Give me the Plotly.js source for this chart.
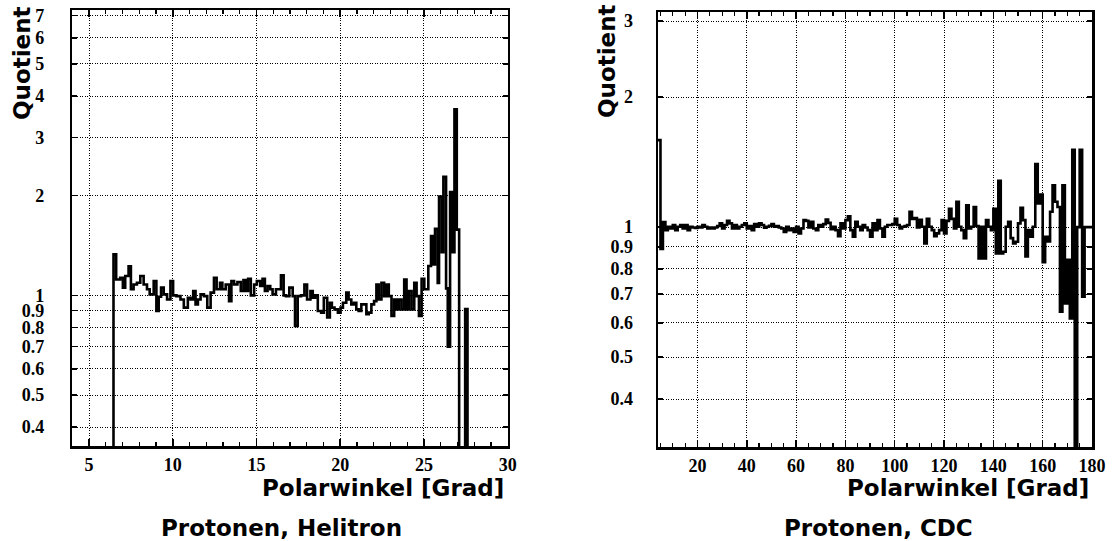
<!DOCTYPE html>
<html>
<head>
<meta charset="utf-8">
<script src="https://cdn.plot.ly/plotly-3.0.1.min.js"></script>
<style>
  html, body { margin: 0; padding: 0; background: #fff; }
  #chart { width: 1115px; height: 541px; }
</style>
</head>
<body>
<div id="chart"></div>
<script>
// Helitron: quotient per polar-angle bin (bin lower edges in degrees, last entry closes the final bin)
const heliEdges = [6.0, 6.46, 6.62, 6.86, 7.02, 7.16, 7.36, 7.50, 7.66, 7.86, 8.06, 8.26, 8.46, 8.62, 8.86,
  9.02, 9.16, 9.30, 9.46, 9.66, 9.86, 10.02, 10.22, 10.46, 10.66, 10.90, 11.06, 11.22, 11.36, 11.50,
  11.66, 11.86, 12.06, 12.26, 12.46, 12.62, 12.82, 12.96, 13.16, 13.36, 13.50, 13.66, 13.86, 14.06,
  14.22, 14.36, 14.50, 14.66, 14.86, 15.02, 15.22, 15.36, 15.50, 15.66, 15.82, 15.96, 16.16, 16.30,
  16.46, 16.62, 16.76, 16.96, 17.16, 17.30, 17.46, 17.66, 17.86, 18.02, 18.22, 18.36, 18.50, 18.66,
  18.86, 19.02, 19.22, 19.38, 19.50, 19.66, 19.86, 20.02, 20.16, 20.36, 20.50, 20.66, 20.82, 20.96,
  21.10, 21.26, 21.42, 21.56, 21.70, 21.86, 22.02, 22.16, 22.30, 22.46, 22.62, 22.76, 22.90, 23.06,
  23.22, 23.36, 23.50, 23.66, 23.82, 23.96, 24.10, 24.26, 24.42, 24.56, 24.70, 24.86, 25.02, 25.26,
  25.42, 25.56, 25.66, 25.82, 25.90, 26.06, 26.16, 26.32, 26.42, 26.56, 26.70, 26.82, 26.96, 27.10,
  27.46, 27.60, 28.0];
const heliQuot = [0, 1.33, 1.117, 1.130, 1.055, 1.144, 1.225, 1.043, 1.079, 1.092, 1.144, 1.079, 1.043, 1.007, 1.105,
  0.897, 0.990, 1.055, 1.007, 0.972, 1.105, 1.000, 0.995, 0.972, 0.918, 0.984, 0.972, 1.031, 0.939, 0.972,
  1.007, 0.995, 0.918, 1.019, 1.130, 1.043, 1.092, 1.043, 1.079, 0.961, 1.105, 1.079, 1.097, 1.031,
  1.112, 1.031, 1.122, 1.000, 1.079, 1.105, 1.067, 1.122, 1.031, 1.067, 1.043, 1.007, 1.043, 1.043,
  1.149, 1.000, 0.995, 1.055, 0.995, 0.809, 0.995, 1.000, 1.079, 0.972, 1.031, 0.984, 1.000, 0.897,
  0.887, 0.984, 0.857, 0.950, 0.918, 0.907, 0.887, 0.918, 0.950, 1.019, 0.972, 0.939, 0.950, 0.907,
  0.897, 0.939, 0.939, 0.877, 0.887, 0.939, 0.961, 1.079, 0.972, 1.092, 0.995, 1.079, 0.995, 0.867,
  0.972, 0.907, 0.972, 0.907, 1.117, 0.907, 1.031, 0.907, 1.092, 0.995, 0.867, 1.122, 1.043, 1.226,
  1.51, 1.24, 1.59, 1.09, 1.99, 1.35, 2.28, 1.05, 0.70, 2.05, 1.35, 3.65, 1.58, 0,
  0.91, 0];

// CDC: quotient in 1-degree bins starting at 4 degrees
const cdcStart = 4;
const cdcWidth = 1;
const cdcQuot = [
  1.59, 0.89, 1.027, 0.984, 1.002, 0.993, 1.011, 0.984, 1.002, 1.011, 0.993, 1.011, 0.984, 1.002, 0.998, 0.995,
  1.002, 0.998, 1.011, 1.002, 0.993, 0.998, 0.993, 0.998, 1.006, 1.020, 0.993, 1.011, 1.034, 1.020, 0.993, 1.011, 0.993, 1.002, 1.011, 1.020,
  0.993, 1.006, 0.984, 1.016, 1.002, 1.020, 1.011, 0.997, 1.002, 1.007, 1.016, 1.002, 1.006, 0.998, 0.993, 0.975, 1.002, 0.984, 0.993, 0.975,
  1.002, 0.967, 0.993, 1.038, 1.034, 0.998, 1.029, 0.993, 0.984, 1.011, 1.002, 1.016, 1.041, 1.023, 0.989, 1.002, 0.984, 0.953, 1.020, 0.993,
  1.038, 1.059, 0.984, 0.950, 1.029, 1.002, 0.984, 1.011, 0.998, 0.984,
  0.950, 1.020, 0.984, 1.038, 0.993, 0.950, 1.002, 1.011, 1.011, 1.016,
  1.045, 1.011, 0.993, 1.002, 1.006, 1.011, 1.085, 1.045, 1.050, 0.998,
  1.040, 1.002, 0.917, 1.045, 1.002, 0.984, 0.953, 0.967, 0.984, 1.038,
  0.967, 1.034, 1.103, 1.045, 0.993, 1.145, 1.002, 0.984, 0.943, 1.124,
  0.993, 1.002, 1.113, 1.006, 0.846, 1.002, 0.846, 1.038, 1.002, 0.984,
  1.103, 0.869, 1.28, 0.869, 0.877, 1.002, 1.029, 0.943, 0.917, 0.925,
  1.020, 1.108, 1.038, 0.855, 0.984, 0.950, 1.002, 1.40, 1.135, 1.19,
  0.83, 0.95, 0.926, 1.085, 1.25, 1.145, 1.113, 0.637, 1.25, 0.666,
  0.84, 0.615, 1.51, 0, 1.0, 1.51, 0.69, 1.0, 1.0, 1.0];

const heliYTicks = [0.4, 0.5, 0.6, 0.7, 0.8, 0.9, 1, 2, 3, 4, 5, 6, 7];
const cdcYTicks = [0.4, 0.5, 0.6, 0.7, 0.8, 0.9, 1, 2, 3];
const heliXTicks = [5, 10, 15, 20, 25, 30];
const cdcXTicks = [20, 40, 60, 80, 100, 120, 140, 160, 180];

// empty bins sit below the log range so their edges run down to the frame
const EMPTY = 1e-3;

function stepTrace(edges, vals, xa, ya) {
  const y = vals.map(v => (v > 0 ? v : EMPTY));
  y.push(y[y.length - 1]);
  return {
    x: edges, y: y, xaxis: xa, yaxis: ya,
    type: 'scatter', mode: 'lines',
    line: { shape: 'hv', color: '#000', width: 2.6 },
    hoverinfo: 'x+y', showlegend: false
  };
}

const cdcEdges = [];
for (let i = 0; i <= cdcQuot.length; i++) cdcEdges.push(cdcStart + i * cdcWidth);

const tickFont = { family: 'Liberation Serif', size: 18, weight: 'bold', color: '#000' };
const titleFont = { family: 'DejaVu Sans', size: 23, weight: 'bold', color: '#000' };
const GRID_DASH = '1px,1.5px';

function yAxis(range, vals, domain, anchor, standoff) {
  return {
    type: 'log', range: range, domain: domain, anchor: anchor,
    tickmode: 'array', tickvals: vals, ticktext: vals.map(String),
    tickfont: tickFont, ticks: 'inside', ticklen: 5, tickwidth: 1.5, tickcolor: '#000',
    ticklabelstandoff: standoff,
    showline: true, linewidth: 2.5, linecolor: '#000', mirror: 'ticks',
    showgrid: true, gridcolor: '#000', gridwidth: 1, griddash: GRID_DASH,
    zeroline: false, fixedrange: true
  };
}

function xAxis(range, vals, minorStep, domain, anchor) {
  return {
    range: range, domain: domain, anchor: anchor,
    tickmode: 'array', tickvals: vals, ticktext: vals.map(String),
    tickfont: tickFont, ticks: 'inside', ticklen: 7, tickwidth: 1.5, tickcolor: '#000',
    ticklabelstandoff: 1,
    minor: { dtick: minorStep, tick0: 0, ticks: 'inside', ticklen: 4, tickwidth: 1.2, tickcolor: '#000', showgrid: false },
    showline: true, linewidth: 2.5, linecolor: '#000', mirror: 'ticks',
    showgrid: true, gridcolor: '#000', gridwidth: 1, griddash: GRID_DASH,
    zeroline: false, fixedrange: true
  };
}

const W = 1115, H = 541;
const px = v => v / W;
const py = v => 1 - v / H;

const layout = {
  width: W, height: H,
  margin: { l: 0, r: 0, t: 0, b: 0 },
  paper_bgcolor: '#fff', plot_bgcolor: '#fff',
  showlegend: false,
  xaxis: xAxis([4, 30], heliXTicks, 1, [px(72.3), px(507.7)], 'y'),
  yaxis: yAxis([-0.455, 0.862], heliYTicks, [py(446), py(10)], 'x', 22),
  xaxis2: xAxis([4, 180], cdcXTicks, 5, [px(658), px(1092)], 'y2'),
  yaxis2: yAxis([-0.509, 0.498], cdcYTicks, [py(447), py(12)], 'x2', 19),
  annotations: [
    { text: 'Quotient', xref: 'paper', yref: 'paper', x: px(22), y: py(63), textangle: -90,
      showarrow: false, font: titleFont, xanchor: 'center', yanchor: 'middle' },
    { text: 'Quotient', xref: 'paper', yref: 'paper', x: px(607), y: py(61), textangle: -90,
      showarrow: false, font: titleFont, xanchor: 'center', yanchor: 'middle' },
    { text: 'Polarwinkel [Grad]', xref: 'paper', yref: 'paper', x: px(506), y: py(488),
      showarrow: false, font: titleFont, xanchor: 'right', yanchor: 'middle' },
    { text: 'Polarwinkel [Grad]', xref: 'paper', yref: 'paper', x: px(1091), y: py(488),
      showarrow: false, font: titleFont, xanchor: 'right', yanchor: 'middle' },
    { text: 'Protonen, Helitron', xref: 'paper', yref: 'paper', x: px(281), y: py(528),
      showarrow: false, font: titleFont, xanchor: 'center', yanchor: 'middle' },
    { text: 'Protonen, CDC', xref: 'paper', yref: 'paper', x: px(878), y: py(528),
      showarrow: false, font: titleFont, xanchor: 'center', yanchor: 'middle' }
  ]
};

const data = [
  stepTrace(heliEdges, heliQuot, 'x', 'y'),
  stepTrace(cdcEdges, cdcQuot, 'x2', 'y2')
];

Plotly.newPlot('chart', data, layout, { displayModeBar: false, staticPlot: true });
</script>
</body>
</html>
